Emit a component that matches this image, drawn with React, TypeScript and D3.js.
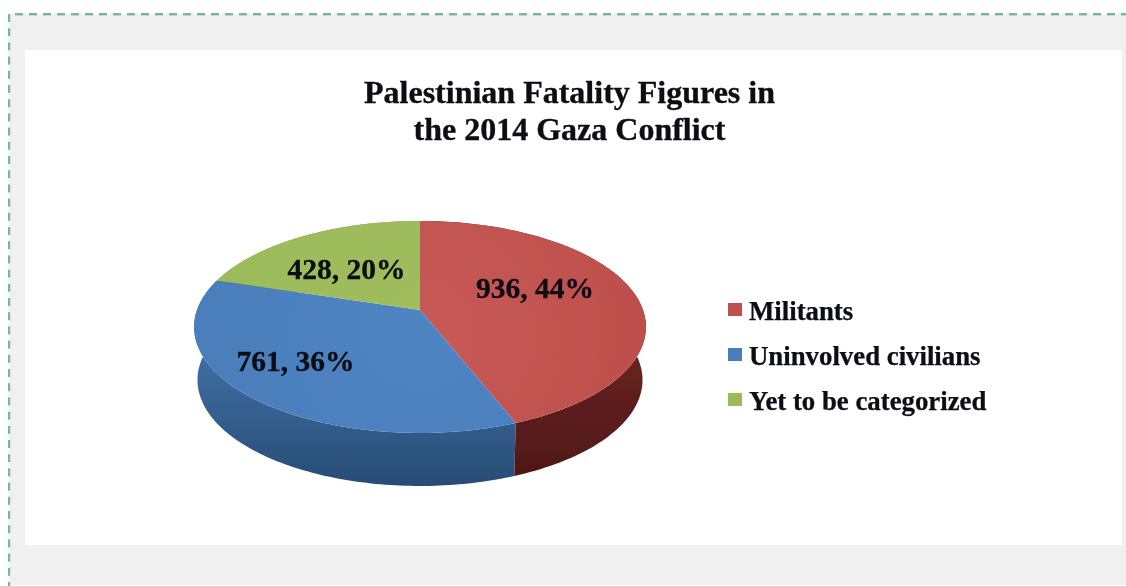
import React from "react";
import * as d3 from "d3";

const categories = ["Militants", "Uninvolved civilians", "Yet to be categorized"];
const values = [936, 761, 428];
const percents = ["44%", "36%", "20%"];
const topColors = ["#bd4f4c", "#4a7ebb", "#9bbb59"];
const topLight = ["#c85a56", "#4f84c2", "#a0bd5e"];
const sideTop = ["#6b2422", "#4272a8", "#7d9a46"];
const sideBottom = ["#4d1717", "#284c75", "#5f7a33"];
const legendColors = ["#c0504d", "#4a7ebb", "#9bbb59"];
const titleLines = ["Palestinian Fatality Figures in", "the 2014 Gaza Conflict"];

const W = 1126;
const H = 586;
const X0 = 420;
const Y0 = 310;
const A = 103.3;
const B = 223;
const K = 0.16;
const DEPTH = 53;
const FONT = "'Liberation Serif', 'Times New Roman', serif";

const labelPos = [
  [535, 298],
  [295.5, 371],
  [346.5, 279],
];
const legendBaselines = [320, 365, 410];

function project(a: number, depth = 0): [number, number] {
  const u = Math.sin(a);
  const v = -Math.cos(a);
  const d = 1 - K * v;
  const s = depth > 0 ? 0.985 : 1;
  return [X0 + (B * u * s) / d, Y0 + (A * v) / d + depth];
}

const pieGen = d3.pie<number>().sort(null).value((d) => d);
const arcs = pieGen(values);
const line = d3.line();

function sampled(a0: number, a1: number) {
  return d3.range(0, 121).map((i) => a0 + ((a1 - a0) * i) / 120);
}

function topPath(a0: number, a1: number) {
  return (line([[X0, Y0], ...sampled(a0, a1).map((a) => project(a))]) as string) + "Z";
}

function sidePath(a0: number, a1: number) {
  const angles = sampled(a0, a1);
  const upper = angles.map((a) => project(a));
  const lower = angles.slice().reverse().map((a) => project(a, DEPTH));
  return (line([...upper, ...lower]) as string) + "Z";
}

const dashH = d3.range(15, W, 14);
const dashV = d3.range(14, H, 14.2);

export default function App() {
  return (
    <svg
      width={W}
      height={H}
      viewBox={`0 0 ${W} ${H}`}
      style={{ position: "absolute", left: 0, top: 0, display: "block" }}
    >
      <defs>
        <filter id="soft" x="-5%" y="-5%" width="110%" height="110%">
          <feGaussianBlur stdDeviation="0.6" />
        </filter>
        {arcs.map((_, i) => (
          <linearGradient key={i} id={`side${i}`} gradientUnits="userSpaceOnUse" x1="0" y1="340" x2="0" y2="485">
            <stop offset="0" stopColor={sideTop[i]} />
            <stop offset="1" stopColor={sideBottom[i]} />
          </linearGradient>
        ))}
        {arcs.map((_, i) => (
          <radialGradient key={i} id={`top${i}`} gradientUnits="userSpaceOnUse" cx={X0} cy={Y0 + 20} r={230}>
            <stop offset="0" stopColor={topLight[i]} />
            <stop offset="1" stopColor={topColors[i]} />
          </radialGradient>
        ))}
      </defs>
      <rect x={0} y={0} width={W} height={H} fill="#ffffff" />
      <rect x={9} y={14} width={W - 9} height={H - 15} fill="#f0f0f0" />
      <rect x={25} y={50} width={1097} height={495} fill="#ffffff" />
      {dashH.map((x) => (
        <rect key={x} x={x} y={13} width={8} height={2.4} fill="#74b89f" />
      ))}
      {dashV.map((y) => (
        <rect key={y} x={8} y={y} width={2.2} height={8} fill="#74b89f" />
      ))}
      <g filter="url(#soft)">
        {titleLines.map((t, i) => (
          <text
            key={t}
            x={569.5}
            y={103 + i * 37}
            textAnchor="middle"
            fontFamily={FONT}
            fontWeight="bold"
            fontSize={32}
            fill="#0a0a14"
            stroke="#0a0a14"
            strokeWidth={0.3}
          >
            {t}
          </text>
        ))}
        {arcs
          .map((d, i) => ({ d, i }))
          .reverse()
          .map(({ d, i }) => (
            <path key={`s${i}`} d={sidePath(d.startAngle, d.endAngle)} fill={`url(#side${i})`} />
          ))}
        {arcs.map((d, i) => (
          <path key={`t${i}`} d={topPath(d.startAngle, d.endAngle)} fill={`url(#top${i})`} />
        ))}
        {arcs.map((d, i) => (
          <text
            key={`l${i}`}
            x={labelPos[i][0]}
            y={labelPos[i][1]}
            textAnchor="middle"
            fontFamily={FONT}
            fontWeight="bold"
            fontSize={29.5}
            fill="#0a0a14"
            stroke="#0a0a14"
            strokeWidth={0.3}
          >
            {`${d.data}, ${percents[i]}`}
          </text>
        ))}
        {categories.map((c, i) => (
          <g key={c}>
            <rect x={728} y={legendBaselines[i] - 17} width={14} height={13} fill={legendColors[i]} />
            <text
              x={749}
              y={legendBaselines[i]}
              fontFamily={FONT}
              fontWeight="bold"
              fontSize={26.8}
              fill="#0a0a14"
              stroke="#0a0a14"
              strokeWidth={0.25}
            >
              {c}
            </text>
          </g>
        ))}
      </g>
    </svg>
  );
}
